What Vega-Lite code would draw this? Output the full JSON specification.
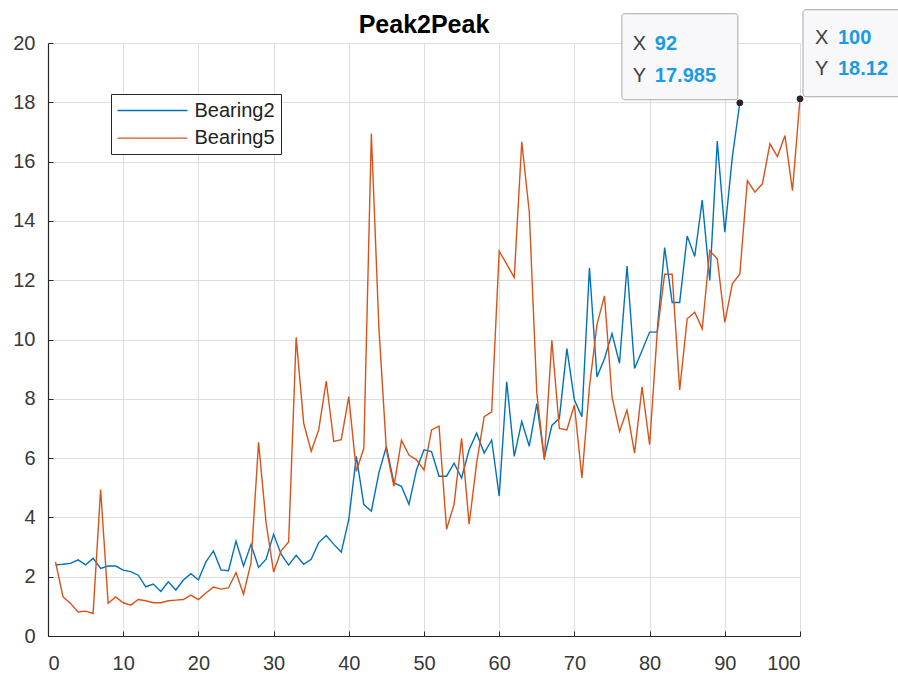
{
  "$schema": "https://vega.github.io/schema/vega-lite/v6.json",
  "width": 752,
  "height": 593,
  "autosize": "none",
  "padding": {"left": 48, "top": 43, "right": 98, "bottom": 42},
  "background": "white",
  "config": {
    "view": {"stroke": null},
    "font": "Liberation Sans",
    "axis": {
      "labelFont": "Liberation Sans",
      "labelFontSize": 20,
      "labelColor": "#383838",
      "domainColor": "#262626",
      "domainWidth": 1.2,
      "tickColor": "#262626",
      "tickSize": -5,
      "gridColor": "#dddddd",
      "gridWidth": 1,
      "title": null
    }
  },
  "title": {
    "text": "Peak2Peak",
    "font": "Liberation Sans",
    "fontSize": 25,
    "fontWeight": "bold",
    "color": "#000000",
    "anchor": "middle",
    "baseline": "alphabetic",
    "offset": -49
  },
  "datasets": {
    "main": [
      {"x":1,"value":2.40,"series":"Bearing2"},{"x":2,"value":2.42,"series":"Bearing2"},{"x":3,"value":2.45,"series":"Bearing2"},{"x":4,"value":2.57,"series":"Bearing2"},{"x":5,"value":2.40,"series":"Bearing2"},{"x":6,"value":2.62,"series":"Bearing2"},{"x":7,"value":2.28,"series":"Bearing2"},{"x":8,"value":2.36,"series":"Bearing2"},{"x":9,"value":2.36,"series":"Bearing2"},{"x":10,"value":2.22,"series":"Bearing2"},
      {"x":11,"value":2.17,"series":"Bearing2"},{"x":12,"value":2.05,"series":"Bearing2"},{"x":13,"value":1.66,"series":"Bearing2"},{"x":14,"value":1.75,"series":"Bearing2"},{"x":15,"value":1.50,"series":"Bearing2"},{"x":16,"value":1.83,"series":"Bearing2"},{"x":17,"value":1.55,"series":"Bearing2"},{"x":18,"value":1.89,"series":"Bearing2"},{"x":19,"value":2.10,"series":"Bearing2"},{"x":20,"value":1.89,"series":"Bearing2"},
      {"x":21,"value":2.50,"series":"Bearing2"},{"x":22,"value":2.87,"series":"Bearing2"},{"x":23,"value":2.23,"series":"Bearing2"},{"x":24,"value":2.20,"series":"Bearing2"},{"x":25,"value":3.20,"series":"Bearing2"},{"x":26,"value":2.36,"series":"Bearing2"},{"x":27,"value":3.09,"series":"Bearing2"},{"x":28,"value":2.31,"series":"Bearing2"},{"x":29,"value":2.59,"series":"Bearing2"},{"x":30,"value":3.43,"series":"Bearing2"},
      {"x":31,"value":2.76,"series":"Bearing2"},{"x":32,"value":2.39,"series":"Bearing2"},{"x":33,"value":2.72,"series":"Bearing2"},{"x":34,"value":2.42,"series":"Bearing2"},{"x":35,"value":2.59,"series":"Bearing2"},{"x":36,"value":3.15,"series":"Bearing2"},{"x":37,"value":3.39,"series":"Bearing2"},{"x":38,"value":3.09,"series":"Bearing2"},{"x":39,"value":2.83,"series":"Bearing2"},{"x":40,"value":3.93,"series":"Bearing2"},
      {"x":41,"value":6.06,"series":"Bearing2"},{"x":42,"value":4.43,"series":"Bearing2"},{"x":43,"value":4.21,"series":"Bearing2"},{"x":44,"value":5.50,"series":"Bearing2"},{"x":45,"value":6.39,"series":"Bearing2"},{"x":46,"value":5.16,"series":"Bearing2"},{"x":47,"value":5.05,"series":"Bearing2"},{"x":48,"value":4.44,"series":"Bearing2"},{"x":49,"value":5.60,"series":"Bearing2"},{"x":50,"value":6.28,"series":"Bearing2"},
      {"x":51,"value":6.22,"series":"Bearing2"},{"x":52,"value":5.39,"series":"Bearing2"},{"x":53,"value":5.39,"series":"Bearing2"},{"x":54,"value":5.83,"series":"Bearing2"},{"x":55,"value":5.33,"series":"Bearing2"},{"x":56,"value":6.28,"series":"Bearing2"},{"x":57,"value":6.84,"series":"Bearing2"},{"x":58,"value":6.17,"series":"Bearing2"},{"x":59,"value":6.61,"series":"Bearing2"},{"x":60,"value":4.72,"series":"Bearing2"},
      {"x":61,"value":8.57,"series":"Bearing2"},{"x":62,"value":6.06,"series":"Bearing2"},{"x":63,"value":7.23,"series":"Bearing2"},{"x":64,"value":6.40,"series":"Bearing2"},{"x":65,"value":7.84,"series":"Bearing2"},{"x":66,"value":6.00,"series":"Bearing2"},{"x":67,"value":7.10,"series":"Bearing2"},{"x":68,"value":7.34,"series":"Bearing2"},{"x":69,"value":9.69,"series":"Bearing2"},{"x":70,"value":7.96,"series":"Bearing2"},
      {"x":71,"value":7.40,"series":"Bearing2"},{"x":72,"value":12.42,"series":"Bearing2"},{"x":73,"value":8.74,"series":"Bearing2"},{"x":74,"value":9.35,"series":"Bearing2"},{"x":75,"value":10.20,"series":"Bearing2"},{"x":76,"value":9.20,"series":"Bearing2"},{"x":77,"value":12.48,"series":"Bearing2"},{"x":78,"value":9.02,"series":"Bearing2"},{"x":79,"value":9.63,"series":"Bearing2"},{"x":80,"value":10.25,"series":"Bearing2"},
      {"x":81,"value":10.25,"series":"Bearing2"},{"x":82,"value":13.10,"series":"Bearing2"},{"x":83,"value":11.25,"series":"Bearing2"},{"x":84,"value":11.25,"series":"Bearing2"},{"x":85,"value":13.49,"series":"Bearing2"},{"x":86,"value":12.80,"series":"Bearing2"},{"x":87,"value":14.70,"series":"Bearing2"},{"x":88,"value":11.99,"series":"Bearing2"},{"x":89,"value":16.69,"series":"Bearing2"},{"x":90,"value":13.62,"series":"Bearing2"},
      {"x":91,"value":16.15,"series":"Bearing2"},{"x":92,"value":17.985,"series":"Bearing2"},
      {"x":1,"value":2.50,"series":"Bearing5"},{"x":2,"value":1.32,"series":"Bearing5"},{"x":3,"value":1.10,"series":"Bearing5"},{"x":4,"value":0.81,"series":"Bearing5"},{"x":5,"value":0.84,"series":"Bearing5"},{"x":6,"value":0.76,"series":"Bearing5"},{"x":7,"value":4.94,"series":"Bearing5"},{"x":8,"value":1.10,"series":"Bearing5"},{"x":9,"value":1.32,"series":"Bearing5"},{"x":10,"value":1.12,"series":"Bearing5"},
      {"x":11,"value":1.04,"series":"Bearing5"},{"x":12,"value":1.23,"series":"Bearing5"},{"x":13,"value":1.19,"series":"Bearing5"},{"x":14,"value":1.12,"series":"Bearing5"},{"x":15,"value":1.12,"series":"Bearing5"},{"x":16,"value":1.19,"series":"Bearing5"},{"x":17,"value":1.21,"series":"Bearing5"},{"x":18,"value":1.23,"series":"Bearing5"},{"x":19,"value":1.38,"series":"Bearing5"},{"x":20,"value":1.23,"series":"Bearing5"},
      {"x":21,"value":1.45,"series":"Bearing5"},{"x":22,"value":1.65,"series":"Bearing5"},{"x":23,"value":1.58,"series":"Bearing5"},{"x":24,"value":1.62,"series":"Bearing5"},{"x":25,"value":2.14,"series":"Bearing5"},{"x":26,"value":1.41,"series":"Bearing5"},{"x":27,"value":2.47,"series":"Bearing5"},{"x":28,"value":6.53,"series":"Bearing5"},{"x":29,"value":3.82,"series":"Bearing5"},{"x":30,"value":2.16,"series":"Bearing5"},
      {"x":31,"value":2.87,"series":"Bearing5"},{"x":32,"value":3.17,"series":"Bearing5"},{"x":33,"value":10.07,"series":"Bearing5"},{"x":34,"value":7.18,"series":"Bearing5"},{"x":35,"value":6.23,"series":"Bearing5"},{"x":36,"value":6.95,"series":"Bearing5"},{"x":37,"value":8.60,"series":"Bearing5"},{"x":38,"value":6.56,"series":"Bearing5"},{"x":39,"value":6.62,"series":"Bearing5"},{"x":40,"value":8.07,"series":"Bearing5"},
      {"x":41,"value":5.55,"series":"Bearing5"},{"x":42,"value":6.34,"series":"Bearing5"},{"x":43,"value":16.95,"series":"Bearing5"},{"x":44,"value":10.40,"series":"Bearing5"},{"x":45,"value":6.28,"series":"Bearing5"},{"x":46,"value":5.05,"series":"Bearing5"},{"x":47,"value":6.60,"series":"Bearing5"},{"x":48,"value":6.10,"series":"Bearing5"},{"x":49,"value":5.94,"series":"Bearing5"},{"x":50,"value":5.60,"series":"Bearing5"},
      {"x":51,"value":6.95,"series":"Bearing5"},{"x":52,"value":7.08,"series":"Bearing5"},{"x":53,"value":3.60,"series":"Bearing5"},{"x":54,"value":4.44,"series":"Bearing5"},{"x":55,"value":6.67,"series":"Bearing5"},{"x":56,"value":3.77,"series":"Bearing5"},{"x":57,"value":5.83,"series":"Bearing5"},{"x":58,"value":7.40,"series":"Bearing5"},{"x":59,"value":7.56,"series":"Bearing5"},{"x":60,"value":12.98,"series":"Bearing5"},
      {"x":61,"value":12.54,"series":"Bearing5"},{"x":62,"value":12.09,"series":"Bearing5"},{"x":63,"value":16.67,"series":"Bearing5"},{"x":64,"value":14.30,"series":"Bearing5"},{"x":65,"value":8.20,"series":"Bearing5"},{"x":66,"value":5.94,"series":"Bearing5"},{"x":67,"value":9.97,"series":"Bearing5"},{"x":68,"value":7.00,"series":"Bearing5"},{"x":69,"value":6.95,"series":"Bearing5"},{"x":70,"value":7.79,"series":"Bearing5"},
      {"x":71,"value":5.33,"series":"Bearing5"},{"x":72,"value":8.40,"series":"Bearing5"},{"x":73,"value":10.50,"series":"Bearing5"},{"x":74,"value":11.47,"series":"Bearing5"},{"x":75,"value":8.07,"series":"Bearing5"},{"x":76,"value":6.90,"series":"Bearing5"},{"x":77,"value":7.62,"series":"Bearing5"},{"x":78,"value":6.17,"series":"Bearing5"},{"x":79,"value":8.40,"series":"Bearing5"},{"x":80,"value":6.45,"series":"Bearing5"},
      {"x":81,"value":10.19,"series":"Bearing5"},{"x":82,"value":12.20,"series":"Bearing5"},{"x":83,"value":12.20,"series":"Bearing5"},{"x":84,"value":8.30,"series":"Bearing5"},{"x":85,"value":10.70,"series":"Bearing5"},{"x":86,"value":10.92,"series":"Bearing5"},{"x":87,"value":10.36,"series":"Bearing5"},{"x":88,"value":13.00,"series":"Bearing5"},{"x":89,"value":12.72,"series":"Bearing5"},{"x":90,"value":10.58,"series":"Bearing5"},
      {"x":91,"value":11.88,"series":"Bearing5"},{"x":92,"value":12.21,"series":"Bearing5"},{"x":93,"value":15.36,"series":"Bearing5"},{"x":94,"value":14.97,"series":"Bearing5"},{"x":95,"value":15.25,"series":"Bearing5"},{"x":96,"value":16.60,"series":"Bearing5"},{"x":97,"value":16.17,"series":"Bearing5"},{"x":98,"value":16.88,"series":"Bearing5"},{"x":99,"value":15.02,"series":"Bearing5"},{"x":100,"value":18.12,"series":"Bearing5"}
    ],
    "tips": [
      {"series":"Bearing2","x":92,"value":17.985},
      {"series":"Bearing5","x":100,"value":18.12}
    ]
  },
  "layer": [
    {
      "data": {"name": "main"},
      "mark": {"type": "line", "strokeWidth": 1.4},
      "encoding": {
        "x": {"field": "x", "type": "quantitative",
              "scale": {"domain": [0, 100], "nice": false, "zero": false},
              "axis": {"values": [0,10,20,30,40,50,60,70,80,90,100], "labelPadding": 22, "grid": true}},
        "y": {"field": "value", "type": "quantitative",
              "scale": {"domain": [0, 20], "nice": false},
              "axis": {"values": [0,2,4,6,8,10,12,14,16,18,20], "labelPadding": 18, "grid": true}},
        "color": {"field": "series", "type": "nominal",
                  "scale": {"domain": ["Bearing2", "Bearing5"], "range": ["#0072BD", "#D95319"]},
                  "legend": {
                    "title": null, "orient": "none", "legendX": 63, "legendY": 51,
                    "symbolType": "M-1,0L6,0", "symbolSize": 400, "symbolStrokeWidth": 1.4,
                    "labelFont": "Liberation Sans", "labelFontSize": 20, "labelColor": "#222222",
                    "labelOffset": 56, "rowPadding": 6.6,
                    "padding": 5.5, "strokeColor": "#262626", "fillColor": "#ffffff"
                  }}
      }
    },
    {
      "data": {"name": "tips"},
      "transform": [{"filter": "datum.series === 'Bearing2'"}],
      "layer": [
        {"mark": {"type": "rect", "fill": "#f8f8fa", "stroke": "#a8a8a8", "strokeWidth": 1, "cornerRadius": 3,
                  "xOffset": -118, "x2Offset": -2, "yOffset": -89, "y2Offset": -3},
         "encoding": {"x": {"field": "x", "type": "quantitative"}, "x2": {"field": "x"},
                      "y": {"field": "value", "type": "quantitative"}, "y2": {"field": "value"}}},
        {"mark": {"type": "text", "text": "X", "align": "left", "baseline": "middle", "dx": -107, "dy": -59,
                  "font": "Liberation Sans", "fontSize": 20, "color": "#404040"},
         "encoding": {"x": {"field": "x", "type": "quantitative"}, "y": {"field": "value", "type": "quantitative"}}},
        {"mark": {"type": "text", "text": "Y", "align": "left", "baseline": "middle", "dx": -107, "dy": -27,
                  "font": "Liberation Sans", "fontSize": 20, "color": "#404040"},
         "encoding": {"x": {"field": "x", "type": "quantitative"}, "y": {"field": "value", "type": "quantitative"}}},
        {"mark": {"type": "text", "align": "left", "baseline": "middle", "dx": -85, "dy": -59,
                  "font": "Liberation Sans", "fontSize": 20, "fontWeight": "bold", "color": "#1a9be6"},
         "encoding": {"x": {"field": "x", "type": "quantitative"}, "y": {"field": "value", "type": "quantitative"},
                      "text": {"field": "x", "type": "nominal"}}},
        {"mark": {"type": "text", "align": "left", "baseline": "middle", "dx": -85, "dy": -27,
                  "font": "Liberation Sans", "fontSize": 20, "fontWeight": "bold", "color": "#1a9be6"},
         "encoding": {"x": {"field": "x", "type": "quantitative"}, "y": {"field": "value", "type": "quantitative"},
                      "text": {"field": "value", "type": "nominal"}}}
      ]
    },
    {
      "data": {"name": "tips"},
      "transform": [{"filter": "datum.series === 'Bearing5'"}],
      "layer": [
        {"mark": {"type": "rect", "fill": "#f8f8fa", "stroke": "#a8a8a8", "strokeWidth": 1, "cornerRadius": 3,
                  "xOffset": 3, "x2Offset": 130, "yOffset": -89, "y2Offset": -2},
         "encoding": {"x": {"field": "x", "type": "quantitative"}, "x2": {"field": "x"},
                      "y": {"field": "value", "type": "quantitative"}, "y2": {"field": "value"}}},
        {"mark": {"type": "text", "text": "X", "align": "left", "baseline": "middle", "dx": 15, "dy": -61,
                  "font": "Liberation Sans", "fontSize": 20, "color": "#404040"},
         "encoding": {"x": {"field": "x", "type": "quantitative"}, "y": {"field": "value", "type": "quantitative"}}},
        {"mark": {"type": "text", "text": "Y", "align": "left", "baseline": "middle", "dx": 15, "dy": -30,
                  "font": "Liberation Sans", "fontSize": 20, "color": "#404040"},
         "encoding": {"x": {"field": "x", "type": "quantitative"}, "y": {"field": "value", "type": "quantitative"}}},
        {"mark": {"type": "text", "align": "left", "baseline": "middle", "dx": 38, "dy": -61,
                  "font": "Liberation Sans", "fontSize": 20, "fontWeight": "bold", "color": "#1a9be6"},
         "encoding": {"x": {"field": "x", "type": "quantitative"}, "y": {"field": "value", "type": "quantitative"},
                      "text": {"field": "x", "type": "nominal"}}},
        {"mark": {"type": "text", "align": "left", "baseline": "middle", "dx": 38, "dy": -30,
                  "font": "Liberation Sans", "fontSize": 20, "fontWeight": "bold", "color": "#1a9be6"},
         "encoding": {"x": {"field": "x", "type": "quantitative"}, "y": {"field": "value", "type": "quantitative"},
                      "text": {"field": "value", "type": "nominal"}}}
      ]
    },
    {
      "data": {"name": "tips"},
      "mark": {"type": "point", "filled": true, "color": "#262626", "size": 45, "opacity": 1},
      "encoding": {"x": {"field": "x", "type": "quantitative"}, "y": {"field": "value", "type": "quantitative"}}
    }
  ]
}
